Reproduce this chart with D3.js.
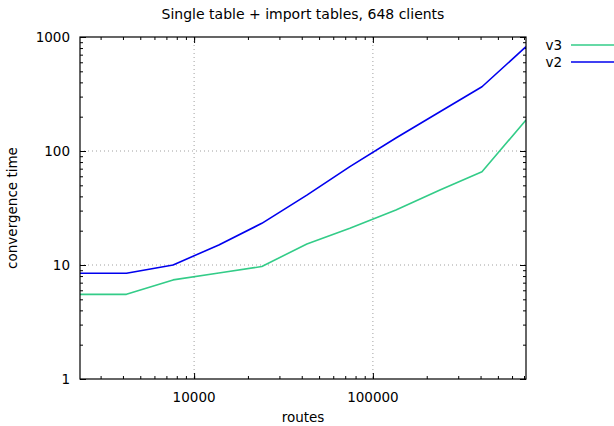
<!DOCTYPE html>
<html>
<head>
<meta charset="utf-8">
<script src="https://cdn.jsdelivr.net/npm/d3@7"></script>
<style>
  html, body { margin: 0; padding: 0; background: #fff; }
  svg text { font-family: "DejaVu Sans", sans-serif; font-size: 13.5px; fill: #000; }
</style>
</head>
<body>
<svg id="chart" width="614" height="426"></svg>
<script>
// Data
const routes = [2301, 4184, 7630, 13746, 23924, 42727, 74330, 134500, 237100, 407400, 718100];
const v3 = [5.53, 5.53, 7.4, 8.5, 9.7, 15.3, 21.0, 30.4, 45.5, 65.8, 187];
const v2 = [8.46, 8.46, 10.0, 15.0, 23.2, 41.0, 73.0, 130, 221, 366, 822];
const xTickLabels = [10000, 100000];
const yTickLabels = [1, 10, 100, 1000];
const seriesNames = ["v3", "v2"];
const seriesColors = ["#33cc88", "#0000ee"];

const svg = d3.select("#chart");
const L = 80, R = 526, T = 37, B = 379;

const x = d3.scaleLog().domain(d3.extent(routes)).range([L, R]);
const y = d3.scaleLog().domain([1, 1000]).range([B, T]);

// minor tick values
const xMinor = [];
for (let d = 1000; d <= 1000000; d *= 10) {
  for (let k = 1; k <= 9; k++) {
    const v = d * k;
    if (v >= x.domain()[0] && v <= x.domain()[1]) xMinor.push(v);
  }
}
const yMinor = [];
for (let d = 1; d < 1000; d *= 10) {
  for (let k = 2; k <= 9; k++) yMinor.push(d * k);
}

// grid (dotted)
const grid = svg.append("g").attr("stroke", "#a0a0a0").attr("stroke-width", 1).attr("stroke-dasharray", "1,3");
xTickLabels.forEach(v => {
  grid.append("line").attr("x1", x(v)).attr("x2", x(v)).attr("y1", T).attr("y2", B);
});
[10, 100].forEach(v => {
  grid.append("line").attr("x1", L).attr("x2", R).attr("y1", y(v)).attr("y2", y(v));
});

// ticks (inside, mirrored) using d3 axes
const majorLen = 6, minorLen = 3;
function styleAxis(g) {
  g.select(".domain").remove();
  g.selectAll(".tick line").attr("stroke", "#000").attr("stroke-width", 1);
}
// bottom
svg.append("g").attr("transform", `translate(0,${B})`)
  .call(d3.axisTop(x).tickValues(xTickLabels).tickSize(majorLen).tickFormat(""))
  .call(styleAxis);
svg.append("g").attr("transform", `translate(0,${B})`)
  .call(d3.axisTop(x).tickValues(xMinor).tickSize(minorLen).tickFormat(""))
  .call(styleAxis);
// top mirror
svg.append("g").attr("transform", `translate(0,${T})`)
  .call(d3.axisBottom(x).tickValues(xTickLabels).tickSize(majorLen).tickFormat(""))
  .call(styleAxis);
svg.append("g").attr("transform", `translate(0,${T})`)
  .call(d3.axisBottom(x).tickValues(xMinor).tickSize(minorLen).tickFormat(""))
  .call(styleAxis);
// left
svg.append("g").attr("transform", `translate(${L},0)`)
  .call(d3.axisRight(y).tickValues(yTickLabels).tickSize(majorLen).tickFormat(""))
  .call(styleAxis);
svg.append("g").attr("transform", `translate(${L},0)`)
  .call(d3.axisRight(y).tickValues(yMinor).tickSize(minorLen).tickFormat(""))
  .call(styleAxis);
// right
svg.append("g").attr("transform", `translate(${R},0)`)
  .call(d3.axisLeft(y).tickValues(yTickLabels).tickSize(majorLen).tickFormat(""))
  .call(styleAxis);
svg.append("g").attr("transform", `translate(${R},0)`)
  .call(d3.axisLeft(y).tickValues(yMinor).tickSize(minorLen).tickFormat(""))
  .call(styleAxis);

// tick labels
svg.append("g").selectAll("text").data(xTickLabels).join("text")
  .attr("x", d => x(d)).attr("y", 402).attr("text-anchor", "middle").text(d => d);
svg.append("g").selectAll("text").data(yTickLabels).join("text")
  .attr("x", 70).attr("y", d => y(d) + 5).attr("text-anchor", "end").text(d => d);

// series lines
const lineGen = d3.line().x((d, i) => x(routes[i])).y(d => y(d));
svg.append("defs").append("clipPath").attr("id", "plotclip")
  .append("rect").attr("x", L).attr("y", T).attr("width", R - L).attr("height", B - T);
[v3, v2].forEach((s, i) => {
  svg.append("path").datum(s)
    .attr("fill", "none").attr("stroke", seriesColors[i]).attr("stroke-width", 1.6)
    .attr("stroke-linejoin", "round")
    .attr("clip-path", "url(#plotclip)")
    .attr("d", lineGen);
});

// border
svg.append("rect").attr("x", L).attr("y", T).attr("width", R - L).attr("height", B - T)
  .attr("fill", "none").attr("stroke", "#000").attr("stroke-width", 1.2);

// legend
seriesNames.forEach((n, i) => {
  const ly = 45 + i * 17;
  svg.append("text").attr("x", 562).attr("y", ly + 5).attr("text-anchor", "end").text(n);
  svg.append("line").attr("x1", 571).attr("x2", 614).attr("y1", ly).attr("y2", ly)
    .attr("stroke", seriesColors[i]).attr("stroke-width", 1.6);
});

// title & axis labels
svg.append("text").attr("x", 303).attr("y", 19).attr("text-anchor", "middle")
  .style("font-size", "14px")
  .text("Single table + import tables, 648 clients");
svg.append("text").attr("x", 303).attr("y", 422).attr("text-anchor", "middle").text("routes");
svg.append("text").attr("transform", `translate(17,208) rotate(-90)`)
  .attr("text-anchor", "middle").text("convergence time");
</script>
</body>
</html>
